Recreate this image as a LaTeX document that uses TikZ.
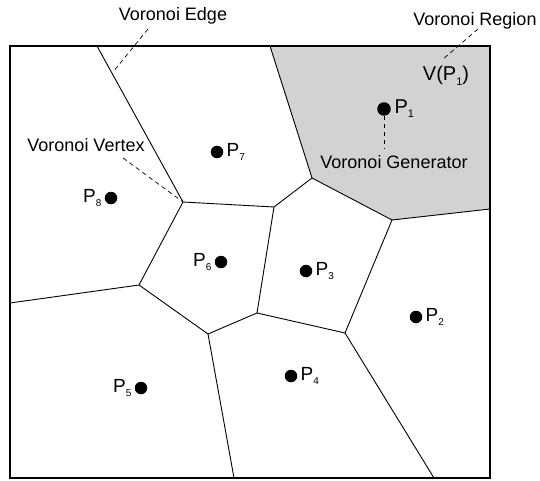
\documentclass[tikz,border=0pt]{standalone}
\usepackage{fontspec}
\setmainfont{Liberation Sans}
\newcommand{\sbs}[1]{\raisebox{-0.4ex}{\fontsize{10}{10}\selectfont #1}}
\newcommand{\sbl}[1]{\raisebox{-0.4ex}{\fontsize{11}{11}\selectfont #1}}
\definecolor{regiongray}{RGB}{210,210,210}
\begin{document}
\begin{tikzpicture}[x=1pt,y=-1pt,
  cell/.style={line width=0.9pt},
  frame/.style={line width=1.3pt},
  lead/.style={line width=0.7pt, dash pattern=on 4.5pt off 3.5pt},
  site/.style={circle, fill=black, inner sep=0pt, minimum size=12.5pt},
  lbl/.style={font=\fontsize{18}{20}\selectfont, inner sep=0pt},
  plbl/.style={font=\fontsize{19}{21}\selectfont, inner sep=0pt},
  biglbl/.style={font=\fontsize{20}{22}\selectfont, inner sep=0pt}
  ]
\useasboundingbox (0,0) rectangle (540,481);
% frame corners
\coordinate (TL) at (10,46);
\coordinate (TR) at (490,46);
\coordinate (BR) at (490,478);
\coordinate (BL) at (10,478);
% border points
\coordinate (t1) at (97,46);
\coordinate (t2) at (270,46);
\coordinate (r1) at (490,209);
\coordinate (b1) at (434,478);
\coordinate (b2) at (234,478);
\coordinate (l1) at (10,303);
% vertices
\coordinate (A) at (183,202);
\coordinate (B) at (274,207);
\coordinate (C) at (312,178);
\coordinate (D) at (392,220);
\coordinate (E) at (345,333);
\coordinate (F) at (257,313);
\coordinate (G) at (208,334);
\coordinate (H) at (139,285);
% shaded region
\fill[regiongray] (t2) -- (TR) -- (r1) -- (D) -- (C) -- cycle;
% edges
\draw[cell] (t1) -- (A);
\draw[cell] (A) -- (B);
\draw[cell] (B) -- (C);
\draw[cell] (C) -- (t2);
\draw[cell] (C) -- (D);
\draw[cell] (D) -- (r1);
\draw[cell] (D) -- (E);
\draw[cell] (E) -- (b1);
\draw[cell] (E) -- (F);
\draw[cell] (F) -- (B);
\draw[cell] (F) -- (G);
\draw[cell] (G) -- (b2);
\draw[cell] (G) -- (H);
\draw[cell] (H) -- (l1);
\draw[cell] (H) -- (A);
\draw[frame] (TL) rectangle (BR);
% sites
\node[site, minimum size=13.5pt] (p1) at (384,109) {};
\node[site] (p2) at (416,317) {};
\node[site] (p3) at (306,271) {};
\node[site] (p4) at (291,376) {};
\node[site] (p5) at (141,388) {};
\node[site] (p6) at (221,262) {};
\node[site] (p7) at (217,152) {};
\node[site] (p8) at (111,198) {};
\node[biglbl, anchor=west] (l1t) at ([xshift=3.5pt]p1.east) {P\sbl{1}};
\node[plbl, anchor=west] (l2t) at ([xshift=3pt]p2.east) {P\sbs{2}};
\node[plbl, anchor=west] (l3t) at ([xshift=3pt]p3.east) {P\sbs{3}};
\node[plbl, anchor=west] (l4t) at ([xshift=3pt]p4.east) {P\sbs{4}};
\node[plbl, anchor=east] (l5t) at ([xshift=-3pt]p5.west) {P\sbs{5}};
\node[plbl, anchor=east] (l6t) at ([xshift=-3pt]p6.west) {P\sbs{6}};
\node[plbl, anchor=west] (l7t) at ([xshift=3pt]p7.east) {P\sbs{7}};
\node[plbl, anchor=east] (l8t) at ([xshift=-3pt]p8.west) {P\sbs{8}};
% annotations
\node[lbl, anchor=base] (edge) at (173,21) {Voronoi Edge};
\node[lbl, anchor=base] (region) at (475,26) {Voronoi Region};
\node[lbl, anchor=base] (vertex) at (86,152) {Voronoi Vertex};
\node[lbl, anchor=base] (gen) at (394,168) {Voronoi Generator};
\node[biglbl, anchor=base] (vp) at (446,81) {V(P\sbl{1})};
\coordinate (edgeA) at (148,29);
\coordinate (edgeB) at (113,72);
\coordinate (regA) at (478,29);
\coordinate (regB) at (442,60);
\coordinate (vertA) at (123,158);
\coordinate (genB) at (384,149);
\draw[lead] (edgeA) -- (edgeB);
\draw[lead] (regA) -- (regB);
\draw[lead] (vertA) -- (A);
\draw[lead] (p1.south) -- (genB);
\end{tikzpicture}
\end{document}
